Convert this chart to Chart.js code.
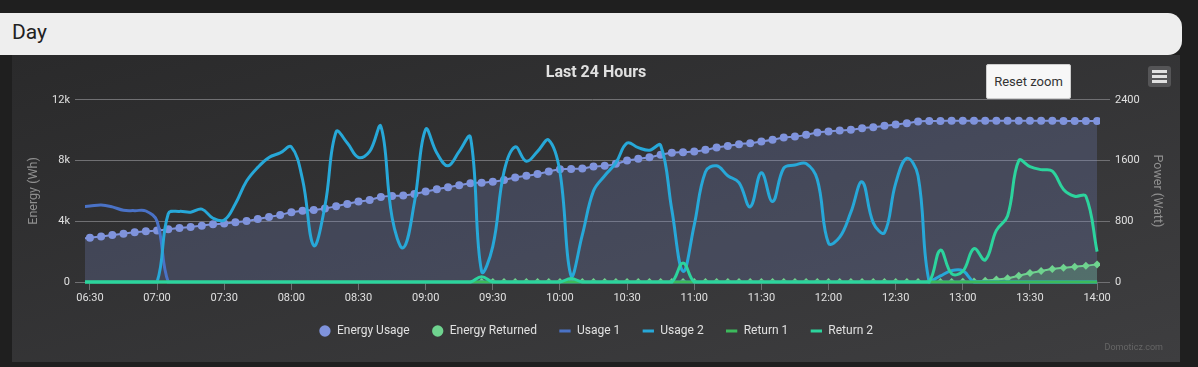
<!DOCTYPE html>
<html>
<head>
<meta charset="utf-8">
<script src="https://cdn.jsdelivr.net/npm/chart.js@4.4.1/dist/chart.umd.min.js"></script>
<style>
  html, body { margin: 0; padding: 0; }
  body { width: 1198px; height: 367px; background: #1f1f1f; position: relative; overflow: hidden; font-family: Roboto, 'Noto Sans', sans-serif; }
  .header { position: absolute; left: 0; top: 13px; width: 1182px; height: 42px; background: #eeeeee; border-radius: 0 14px 14px 0; }
  .header span { position: absolute; left: 12px; top: 9px; font-size: 21px; line-height: 21px; color: #222; }
  .panel { position: absolute; left: 12px; top: 55px; width: 1168px; height: 307px; background: linear-gradient(to bottom right, #2a2a2b, #3e3e40); }
  .panel canvas { position: absolute; left: 0; top: 0; }
  .reset { position: absolute; left: 974px; top: 9px; width: 83px; height: 33px; background: #f7f7f7; border: 1px solid #cccccc; border-radius: 2px; font-size: 13px; line-height: 33px; color: #333; text-align: center; }
  .menu { position: absolute; left: 1136px; top: 11px; width: 23px; height: 21px; background: #555557; border-radius: 3px; }
  .menu i { position: absolute; left: 4px; width: 15px; height: 3px; background: #e0e0e0; }
  .credit { position: absolute; right: 17px; top: 287px; font-size: 9px; color: #666; }
</style>
</head>
<body>
<div class="header"><span>Day</span></div>
<div class="panel">
  <canvas id="day-chart" width="1168" height="307"></canvas>
  <div class="reset">Reset zoom</div>
  <div class="menu"><i style="top:4px"></i><i style="top:9px"></i><i style="top:14px"></i></div>
  <div class="credit">Domoticz.com</div>
</div>
<script>
// 5 minute samples, rows grouped per hour
const times = [
  '06:25', '06:30', '06:35', '06:40', '06:45', '06:50', '06:55',
  '07:00', '07:05', '07:10', '07:15', '07:20', '07:25', '07:30', '07:35', '07:40', '07:45', '07:50', '07:55',
  '08:00', '08:05', '08:10', '08:15', '08:20', '08:25', '08:30', '08:35', '08:40', '08:45', '08:50', '08:55',
  '09:00', '09:05', '09:10', '09:15', '09:20', '09:25', '09:30', '09:35', '09:40', '09:45', '09:50', '09:55',
  '10:00', '10:05', '10:10', '10:15', '10:20', '10:25', '10:30', '10:35', '10:40', '10:45', '10:50', '10:55',
  '11:00', '11:05', '11:10', '11:15', '11:20', '11:25', '11:30', '11:35', '11:40', '11:45', '11:50', '11:55',
  '12:00', '12:05', '12:10', '12:15', '12:20', '12:25', '12:30', '12:35', '12:40', '12:45', '12:50', '12:55',
  '13:00', '13:05', '13:10', '13:15', '13:20', '13:25', '13:30', '13:35', '13:40', '13:45', '13:50', '13:55',
  '14:00',
];

const tickLabels = ['06:30', '07:00', '07:30', '08:00', '08:30', '09:00', '09:30', '10:00',
  '10:30', '11:00', '11:30', '12:00', '12:30', '13:00', '13:30', '14:00'];

// Wh, left axis
const energyUsage = [
  2850, 2920, 2990, 3100, 3185, 3275, 3345,
  3390, 3475, 3560, 3625, 3710, 3800, 3845, 3935, 4020, 4150, 4285, 4420,
  4595, 4700, 4745, 4835, 4990, 5145, 5295, 5405, 5600, 5670, 5690, 5800,
  5955, 6110, 6245, 6375, 6505, 6545, 6595, 6725, 6880, 6990, 7120, 7275,
  7430, 7450, 7475, 7605, 7650, 7780, 8000, 8110, 8220, 8375, 8505, 8550,
  8595, 8705, 8855, 8965, 9080, 9145, 9250, 9365, 9515, 9580, 9690, 9845,
  9910, 9980, 10020, 10130, 10200, 10285, 10375, 10460, 10570, 10600, 10610, 10615,
  10620, 10620, 10620, 10620, 10620, 10620, 10620, 10615, 10615, 10610, 10610, 10610,
  10610,
];

const energyReturned = [
  null, null, null, null, null, null, null,
  null, null, null, null, null, null, null, null, null, null, null, null,
  null, null, null, null, null, null, null, null, null, null, null, null,
  null, null, null, null, null, 0, 0, 0, 0, 0, 0, 0,
  0, 0, 0, 0, 0, 0, 0, 0, 0, 0, 0, 0,
  0, 0, 0, 0, 0, 0, 0, 0, 0, 0, 0, 0,
  0, 0, 0, 0, 0, 0, 0, 0, 0, 0, 0, 0,
  10, 30, 90, 160, 250, 410, 590, 725, 855, 940, 1010, 1075,
  1160,
];

// Watt, right axis
const usage1 = [
  990, 1000, 1015, 990, 945, 940, 935,
  800, 0, 0, 0, 0, 0, 0, 0, 0, 0, 0, 0,
  0, 0, 0, 0, 0, 0, 0, 0, 0, 0, 0, 0,
  0, 0, 0, 0, 0, 0, 0, 0, 0, 0, 0, 0,
  0, 0, 0, 0, 0, 0, 0, 0, 0, 0, 0, 0,
  0, 0, 0, 0, 0, 0, 0, 0, 0, 0, 0, 0,
  0, 0, 0, 0, 0, 0, 0, 0, 0, 0, 0, 0,
  0, 0, 0, 0, 0, 0, 0, 0, 0, 0, 0, 0,
  0,
];

const usage2 = [
  0, 0, 0, 0, 0, 0, 0,
  0, 900, 930, 920, 960, 840, 815, 1030, 1330, 1510, 1640, 1700,
  1780, 1350, 480, 1000, 1980, 1830, 1640, 1720, 2050, 850, 450, 1050,
  2010, 1700, 1530, 1720, 1910, 140, 470, 1450, 1780, 1590, 1720, 1870,
  1450, 80, 620, 1200, 1400, 1570, 1830, 1770, 1735, 1800, 950, 140,
  750, 1450, 1530, 1400, 1310, 990, 1440, 1060, 1500, 1540, 1560, 1350,
  510, 590, 920, 1320, 780, 650, 1300, 1630, 1400, 0, 80, 150,
  150, 0, 0, 0, 0, 0, 0, 0, 0, 0, 0, 0,
  0,
];

const return1 = [
  0, 0, 0, 0, 0, 0, 0,
  0, 0, 0, 0, 0, 0, 0, 0, 0, 0, 0, 0,
  0, 0, 0, 0, 0, 0, 0, 0, 0, 0, 0, 0,
  0, 0, 0, 0, 0, 0, 0, 0, 0, 0, 0, 0,
  0, 0, 0, 0, 0, 0, 0, 0, 0, 0, 0, 0,
  0, 0, 0, 0, 0, 0, 0, 0, 0, 0, 0, 0,
  0, 0, 0, 0, 0, 0, 0, 0, 0, 0, 0, 0,
  0, 0, 0, 0, 0, 0, 0, 0, 0, 0, 0, 0,
  0,
];

const return2 = [
  0, 0, 0, 0, 0, 0, 0,
  0, 0, 0, 0, 0, 0, 0, 0, 0, 0, 0, 0,
  0, 0, 0, 0, 0, 0, 0, 0, 0, 0, 0, 0,
  0, 0, 0, 0, 0, 70, 0, 0, 0, 0, 0, 0,
  0, 45, 0, 0, 0, 0, 0, 0, 0, 0, 0, 250,
  0, 0, 0, 0, 0, 0, 0, 0, 0, 0, 0, 0,
  0, 0, 0, 0, 0, 0, 0, 0, 0, 0, 420, 110,
  140, 440, 290, 680, 870, 1600, 1520, 1480, 1460, 1220, 1130, 1130,
  400,
];

const toMinutes = (t) => +t.slice(0, 2) * 60 + +t.slice(3);

Chart.defaults.font.family = 'Roboto';

const powerLine = (label, data, color, order) => ({
  label: label,
  data: data,
  yAxisID: 'y1',
  borderColor: color,
  backgroundColor: color,
  borderWidth: 3,
  pointRadius: 0,
  pointStyle: 'line',
  pointBorderColor: color,
  pointBorderWidth: 3,
  tension: 0.4,
  fill: false,
  clip: { left: 0, top: 5, right: 0, bottom: 2 },
  order: order,
});

const dayChart = () => {
  const ctx = document.getElementById('day-chart').getContext('2d');

  const config = {
    type: 'line',
    data: {
      labels: times.map(toMinutes),
      datasets: [
        {
          label: 'Energy Usage',
          data: energyUsage,
          yAxisID: 'y',
          borderColor: '#7f93dc',
          borderWidth: 2,
          backgroundColor: 'rgba(127, 147, 220, 0.22)',
          fill: 'origin',
          tension: 0.4,
          pointStyle: 'circle',
          pointRadius: 4,
          pointBackgroundColor: '#7f93dc',
          pointBorderColor: '#7f93dc',
          pointBorderWidth: 0,
          clip: 0,
          order: 5,
        },
        {
          label: 'Energy Returned',
          data: energyReturned,
          yAxisID: 'y',
          borderColor: '#6fd38f',
          borderWidth: 2,
          backgroundColor: 'rgba(111, 211, 143, 0.25)',
          fill: 'origin',
          tension: 0.4,
          pointStyle: 'rectRot',
          pointRadius: 4,
          pointBackgroundColor: '#6fd38f',
          pointBorderColor: '#6fd38f',
          pointBorderWidth: 0,
          clip: 0,
          order: 4,
        },
        powerLine('Usage 1', usage1, '#4a72c6', 3),
        powerLine('Usage 2', usage2, '#27a8d8', 2),
        powerLine('Return 1', return1, '#3cba5c', 1),
        powerLine('Return 2', return2, '#2cd49d', 0),
      ],
    },
    options: {
      responsive: false,
      animation: false,
      layout: { padding: { top: 0, right: 0, bottom: 15, left: 0 } },
      plugins: {
        title: {
          display: true,
          text: 'Last 24 Hours',
          color: '#e0e0e0',
          font: { size: 16, weight: 'bold' },
          padding: { top: 8, bottom: 17.6 },
        },
        legend: {
          position: 'bottom',
          labels: {
            usePointStyle: true,
            boxHeight: 8,
            padding: 22,
            color: '#e0e0e0',
            font: { size: 12 },
            sort: (a, b) => a.datasetIndex - b.datasetIndex,
            generateLabels: (chart) => {
              const items = Chart.defaults.plugins.legend.labels.generateLabels(chart);
              // both energy series show a round marker in the legend
              items.forEach((item) => {
                if (item.datasetIndex < 2) item.pointStyle = 'circle';
              });
              return items;
            },
          },
        },
        tooltip: { enabled: false },
      },
      scales: {
        x: {
          type: 'linear',
          min: 387.8,
          max: 841.3,
          afterBuildTicks: (axis) => {
            axis.ticks = tickLabels.map((t) => ({ value: toMinutes(t) }));
          },
          afterFit: (axis) => {
            axis.height = 21;
          },
          ticks: {
            autoSkip: false,
            maxRotation: 0,
            padding: 2,
            color: '#e0e0e0',
            font: { size: 11 },
            callback: (value, index) => tickLabels[index],
          },
          grid: { drawOnChartArea: false, tickLength: 8, color: '#707073' },
          border: { display: false },
        },
        y: {
          position: 'left',
          min: 0,
          max: 12000,
          afterFit: (axis) => {
            axis.width = 73;
          },
          ticks: {
            stepSize: 4000,
            padding: 5,
            color: '#e0e0e0',
            font: { size: 11 },
            callback: (v) => (v === 0 ? '0' : v / 1000 + 'k'),
          },
          grid: { color: '#707073', tickLength: 10 },
          border: { display: false },
          title: {
            display: true,
            text: 'Energy (Wh)',
            color: '#8f8f8f',
            font: { size: 12.5 },
            padding: { top: 14 },
          },
        },
        y1: {
          position: 'right',
          min: 0,
          max: 2400,
          afterFit: (axis) => {
            axis.width = 80;
          },
          ticks: {
            stepSize: 800,
            padding: 5,
            color: '#e0e0e0',
            font: { size: 11 },
            callback: (v) => String(v),
          },
          grid: { drawOnChartArea: false, color: '#707073', tickLength: 10 },
          border: { display: false },
          title: {
            display: true,
            text: 'Power (Watt)',
            color: '#8f8f8f',
            font: { size: 12.5 },
            padding: { top: 15 },
          },
        },
      },
    },
  };

  new Chart(ctx, config);
};

dayChart();
</script>
</body>
</html>
